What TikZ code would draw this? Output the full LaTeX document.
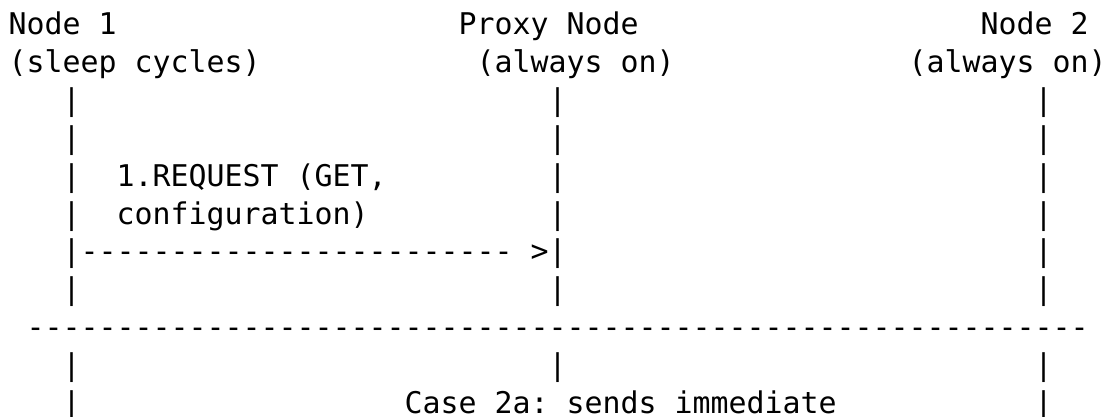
\documentclass[tikz,border=0pt]{standalone}
\usepackage{fontspec}
\setmonofont{DejaVu Sans Mono}
\usepackage{tikz}

\begin{document}
\begin{tikzpicture}[x=9pt, y=-18.9pt,
    ascii/.style={anchor=base west, inner sep=0pt, outer sep=0pt,
      font=\ttfamily\fontsize{14.95pt}{18.9pt}\selectfont}]
  \useasboundingbox (0,0) rectangle (554.5pt,-208.5pt);
  \begin{scope}[shift={(4.35pt,-17.5pt)}]
  % column/row grid: one unit per character cell
  \node[ascii] (N1) at (0,0) {Node 1};
  \node[ascii] (P) at (25,0) {Proxy Node};
  \node[ascii] (N2) at (54,0) {Node 2};
  \node[ascii] (N1state) at (0,1) {(sleep cycles)};
  \node[ascii] (Pstate) at (26,1) {(always on)};
  \node[ascii] (N2state) at (50,1) {(always on)};
  % lifelines
  \foreach \r in {2,3,4,5,6,7,9,10}
    \node[ascii] (N1bar\r) at (3,\r) {|};
  \foreach \r in {2,3,4,5,6,7,9}
    \node[ascii] (Pbar\r) at (30,\r) {|};
  \foreach \r in {2,3,4,5,6,7,9,10}
    \node[ascii] (N2bar\r) at (57,\r) {|};
  % request to the proxy
  \node[ascii] (req) at (6,4) {1.REQUEST (GET,};
  \node[ascii] (reqcfg) at (6,5) {configuration)};
  \node[ascii] (reqarrow) at (4,6) {------------------------ >};
  % separator
  \node[ascii] (sep) at (1,8) {-----------------------------------------------------------};
  \node[ascii] (case) at (22,10) {Case 2a: sends immediate};
  \end{scope}
\end{tikzpicture}
\end{document}
